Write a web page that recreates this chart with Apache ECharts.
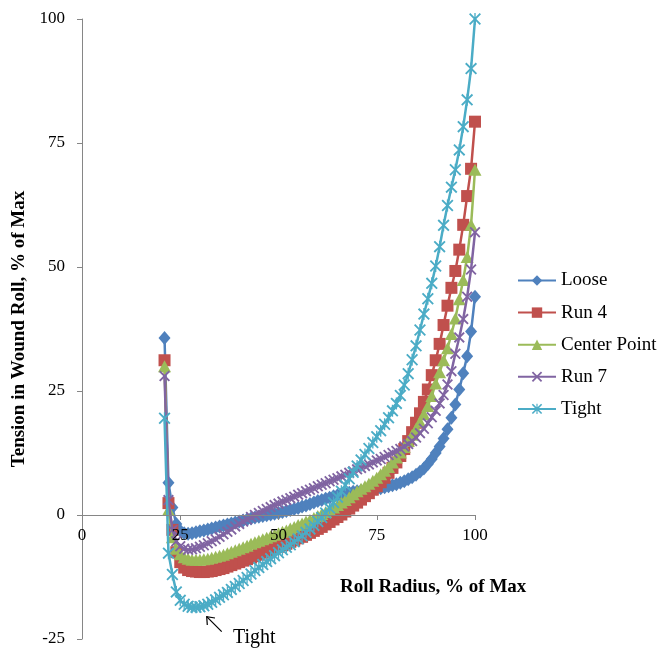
<!DOCTYPE html>
<html><head><meta charset="utf-8">
<script src="https://cdn.jsdelivr.net/npm/echarts@6/dist/echarts.min.js"></script>
<style>html,body{margin:0;padding:0;background:#fff}#c{width:661px;height:652px}</style>
</head><body><div id="c"></div>
<script>
// Roll radius, % of max (x)
const radius = [21,22,23,24,25,26,27,28,29,30,31,32,33,34,35,36,37,38,39,40,41,42,43,44,45,46,47,48,49,50,
  51,52,53,54,55,56,57,58,59,60,61,62,63,64,65,66,67,68,69,70,71,72,73,74,75,76,77,78,79,80,
  81,82,83,84,85,86,87,88,89,90,91,92,93,94,95,96,97,98,99,100];
const seriesNames = ['Loose','Run 4','Center Point','Run 7','Tight'];
const xTicks = [0,25,50,75,100];
const yTicks = [-25,0,25,50,75,100];
const loose = [35.7,6.5,1.5,-1.8,-3.2,-3.7,-3.8,-3.7,-3.5,-3.3,-3.1,-2.9,-2.7,-2.5,-2.3,-2.1,-1.9,-1.7,-1.5,-1.3,
  -1.1,-0.9,-0.7,-0.5,-0.35,-0.2,-0.05,0.1,0.25,0.4,0.6,0.8,1.0,1.2,1.4,1.7,1.9,2.2,2.5,2.8,
  3.0,3.3,3.5,3.8,4.0,4.2,4.4,4.5,4.7,4.8,4.9,5.0,5.1,5.2,5.3,5.4,5.6,5.8,6.0,6.2,
  6.5,6.8,7.2,7.6,8.1,8.7,9.4,10.3,11.3,12.5,13.8,15.4,17.3,19.6,22.3,25.3,28.6,32.0,37.0,44.0];
const run4 = [31.2,2.4,-3.0,-7.5,-9.5,-10.6,-11.1,-11.3,-11.4,-11.5,-11.5,-11.4,-11.3,-11.1,-10.9,-10.7,-10.4,-10.1,-9.8,-9.5,
  -9.2,-8.9,-8.6,-8.3,-8.0,-7.6,-7.3,-7.0,-6.7,-6.4,-6.1,-5.8,-5.4,-5.1,-4.7,-4.4,-4.0,-3.6,-3.2,-2.8,
  -2.4,-1.9,-1.4,-0.9,-0.4,0.1,0.7,1.3,1.9,2.5,3.1,3.8,4.4,5.1,5.8,6.6,7.5,8.5,9.5,10.6,
  11.9,13.3,14.9,16.7,18.6,20.5,22.8,25.3,28.2,31.2,34.5,38.3,42.2,45.8,49.2,53.5,58.5,64.3,69.8,79.3];
const centerPoint = [30.0,1.0,-4.5,-6.8,-7.9,-8.5,-8.8,-9.0,-9.0,-9.0,-8.9,-8.8,-8.6,-8.4,-8.2,-8.0,-7.7,-7.4,-7.1,-6.8,
  -6.5,-6.2,-5.8,-5.5,-5.2,-4.9,-4.6,-4.3,-4.0,-3.7,-3.4,-3.1,-2.7,-2.4,-2.0,-1.7,-1.3,-1.0,-0.6,-0.2,
  0.2,0.6,1.0,1.5,2.0,2.5,3.0,3.6,4.2,4.8,5.3,5.8,6.3,6.9,7.5,8.2,8.9,9.7,10.6,11.6,
  12.6,13.7,14.9,16.2,17.4,18.8,20.3,22.0,24.0,26.5,28.8,31.2,33.6,36.5,39.6,43.5,47.4,52.0,58.5,69.6];
const run7 = [28.0,3.0,-3.0,-5.3,-6.3,-6.8,-7.0,-6.9,-6.7,-6.4,-6.1,-5.7,-5.3,-4.9,-4.4,-3.9,-3.4,-2.9,-2.3,-1.8,
  -1.3,-0.9,-0.4,0.0,0.4,0.8,1.2,1.6,2.0,2.3,2.7,3.0,3.4,3.7,4.1,4.4,4.8,5.1,5.4,5.8,
  6.1,6.4,6.8,7.1,7.4,7.8,8.1,8.5,8.8,9.2,9.5,9.9,10.2,10.6,11.0,11.3,11.7,12.1,12.5,12.9,
  13.3,13.8,14.3,14.9,15.6,16.5,17.4,18.5,19.7,21.0,22.5,24.2,26.3,29.0,32.5,35.8,39.5,44.0,49.5,57.0];
const tight = [19.5,-7.7,-12.0,-15.5,-17.2,-18.0,-18.4,-18.6,-18.6,-18.5,-18.3,-18.0,-17.6,-17.1,-16.6,-16.1,-15.6,-15.0,-14.4,-13.8,
  -13.2,-12.6,-11.9,-11.2,-10.6,-10.0,-9.4,-8.8,-8.2,-7.6,-7.0,-6.5,-6.0,-5.4,-4.8,-4.2,-3.5,-2.8,-2.1,-1.3,
  -0.5,0.4,1.4,2.5,3.6,4.8,6.0,7.3,8.6,9.9,11.1,12.2,13.4,14.6,15.8,17.0,18.3,19.6,21.0,22.5,
  24.1,26.2,28.5,31.3,34.1,37.3,40.5,43.6,46.7,50.2,54.1,58.4,62.4,66.1,69.6,73.6,78.3,83.7,90.0,100.0];

const FONT = "'Liberation Serif','Times New Roman',serif";
const colors = ['#4F81BD','#C0504D','#9BBB59','#8064A2','#4BACC6'];
const xPath = 'path://M0,1.2 L1.2,0 L5,3.8 L8.8,0 L10,1.2 L6.2,5 L10,8.8 L8.8,10 L5,6.2 L1.2,10 L0,8.8 L3.8,5 Z';
const starPath = 'path://M0,1.1 L1.1,0 L5,3.9 L8.9,0 L10,1.1 L6.1,5 L10,8.9 L8.9,10 L5,6.1 L1.1,10 L0,8.9 L3.9,5 Z M4.45,0 L5.55,0 L5.55,10 L4.45,10 Z';
const symbols = ['diamond','rect','triangle',xPath,starPath];
const symSizes = [[12,14],[12,12],[13,12],[11,11],[12,12]];
const valueSets = [loose, run4, centerPoint, run7, tight];

const chart = echarts.init(document.getElementById('c'), null, {renderer:'canvas'});
const series = seriesNames.map((n,i)=>({
  name:n, type:'line',
  data: radius.map((r,k)=>[r, valueSets[i][k]]),
  symbol: symbols[i], symbolSize: symSizes[i],
  showSymbol:true, showAllSymbol:true,
  lineStyle:{color:colors[i], width:2.5},
  itemStyle:{color:colors[i], borderWidth:0},
  emphasis:{disabled:true},
  animation:false,
  z: 2+i
}));
const gridH = 620, yMin = -25, yMax = 100;
chart.setOption({
  animation:false,
  textStyle:{fontFamily:FONT},
  grid:{left:82, top:19, width:393, height:gridH, containLabel:false, outerBoundsMode:'none'},
  xAxis:{type:'value', min:0, max:100, interval:25, position:'bottom', z:20,
    offset: -gridH*(0-yMin)/(yMax-yMin),
    axisLine:{onZero:false, lineStyle:{color:'#868686', width:1}},
    axisTick:{show:true, length:5, lineStyle:{color:'#868686'}},
    axisLabel:{color:'#000', fontSize:17, fontFamily:FONT, margin:12,
      formatter:v=> xTicks.includes(v) ? String(v) : ''},
    splitLine:{show:false}},
  yAxis:{type:'value', min:yMin, max:yMax, interval:25,
    axisLine:{show:true, onZero:false, lineStyle:{color:'#868686', width:1}},
    axisTick:{show:true, length:5, lineStyle:{color:'#868686'}},
    axisLabel:{color:'#000', fontSize:17, fontFamily:FONT, margin:17,
      formatter:v=> yTicks.includes(v) ? String(v) : ''},
    splitLine:{show:false},
    name:'Tension in Wound Roll, % of Max', nameLocation:'middle', nameRotate:90, nameGap:53,
    nameTextStyle:{color:'#000', fontSize:19, fontWeight:'bold', fontFamily:FONT}},
  legend:{orient:'vertical', left:517, top:271, itemWidth:38, itemHeight:13, itemGap:13.1,
    padding:0, textStyle:{fontSize:19, color:'#000', fontFamily:FONT},
    data: seriesNames},
  graphic:[
    {type:'text', left:340, top:578, style:{text:'Roll Radius, % of Max', font:"bold 19px 'Liberation Serif'", fill:'#000'}},
    {type:'text', left:233, top:628, style:{text:'Tight', font:"20px 'Liberation Serif'", fill:'#000'}},
    {type:'line', shape:{x1:221.7, y1:631.7, x2:206.7, y2:616.7}, style:{stroke:'#000', lineWidth:1.2}},
    {type:'polyline', shape:{points:[[207.3,625],[206.7,616.7],[215,618]]}, style:{stroke:'#000', lineWidth:1.2, fill:null}}
  ],
  series: series
});
</script></body></html>
